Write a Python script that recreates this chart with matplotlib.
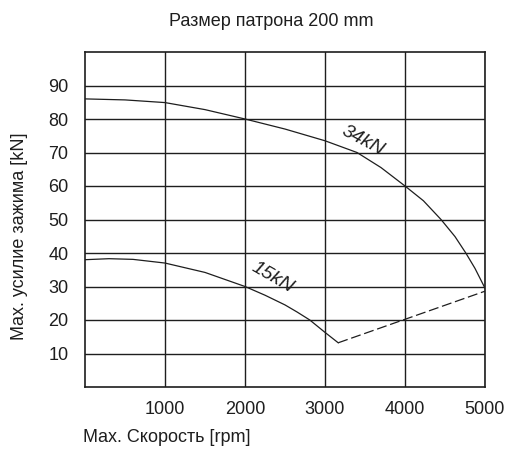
import matplotlib.pyplot as plt

plt.rcParams['font.family'] = ['Liberation Sans', 'DejaVu Sans']

# данные
rpm_34 = [0, 500, 1000, 1500, 2000, 2500, 3000, 3400, 3700, 4000, 4230, 4450,
          4625, 4760, 4875, 5000]
force_34 = [86, 85.7, 84.9, 82.8, 80, 77, 73.5, 70, 65.5, 60, 55.6, 50,
            44.9, 40, 35.4, 29.5]

rpm_15 = [0, 300, 600, 1000, 1500, 2000, 2250, 2500, 2650, 2810, 3000, 3165]
force_15 = [38, 38.3, 38.1, 37, 34.2, 30, 27.4, 24.5, 22.4, 20, 16.3, 13.2]

rpm_dash = [3165, 5000]
force_dash = [13.2, 28.6]

x_ticks = [1000, 2000, 3000, 4000, 5000]
y_ticks = [10, 20, 30, 40, 50, 60, 70, 80, 90]

ink = '#1e1e1e'

fig = plt.figure(figsize=(5.1, 4.5), dpi=100)
ax = fig.add_axes([85 / 510, 63 / 450, 400 / 510, 335 / 450])

ax.plot(rpm_34, force_34, color=ink, lw=0.9)
ax.plot(rpm_15, force_15, color=ink, lw=0.9)
ax.plot(rpm_dash, force_dash, color=ink, lw=0.9, linestyle=(0, (8, 3)))

ax.set_xlim(0, 5000)
ax.set_ylim(0, 100)
ax.set_xticks(x_ticks)
ax.set_yticks(y_ticks)
ax.grid(True, color=ink, lw=1.0)
ax.set_axisbelow(True)
for s in ax.spines.values():
    s.set_color(ink)
    s.set_linewidth(1.2)
ax.tick_params(length=0, labelsize=13, colors=ink)
ax.tick_params(axis='y', pad=12)
ax.tick_params(axis='x', pad=10)

# подписи кривых
ax.text(3475, 73.5, '34kN', fontsize=14, style='italic', rotation=-28,
        ha='center', va='center', color=ink)
ax.text(2350, 32.8, '15kN', fontsize=14, style='italic', rotation=-30,
        ha='center', va='center', color=ink)

fig.text(271 / 510, 1 - 22 / 450, 'Размер патрона 200 mm', fontsize=13,
         ha='center', va='center', color=ink)
fig.text(83 / 510, 1 - 438 / 450, 'Max. Скорость [rpm]', fontsize=13,
         ha='left', va='center', color=ink)
fig.text(20 / 510, 1 - 236 / 450, 'Max. усилие зажима [kN]', fontsize=13,
         rotation=90, ha='center', va='center', color=ink)

fig.savefig('out.png', dpi=100)
